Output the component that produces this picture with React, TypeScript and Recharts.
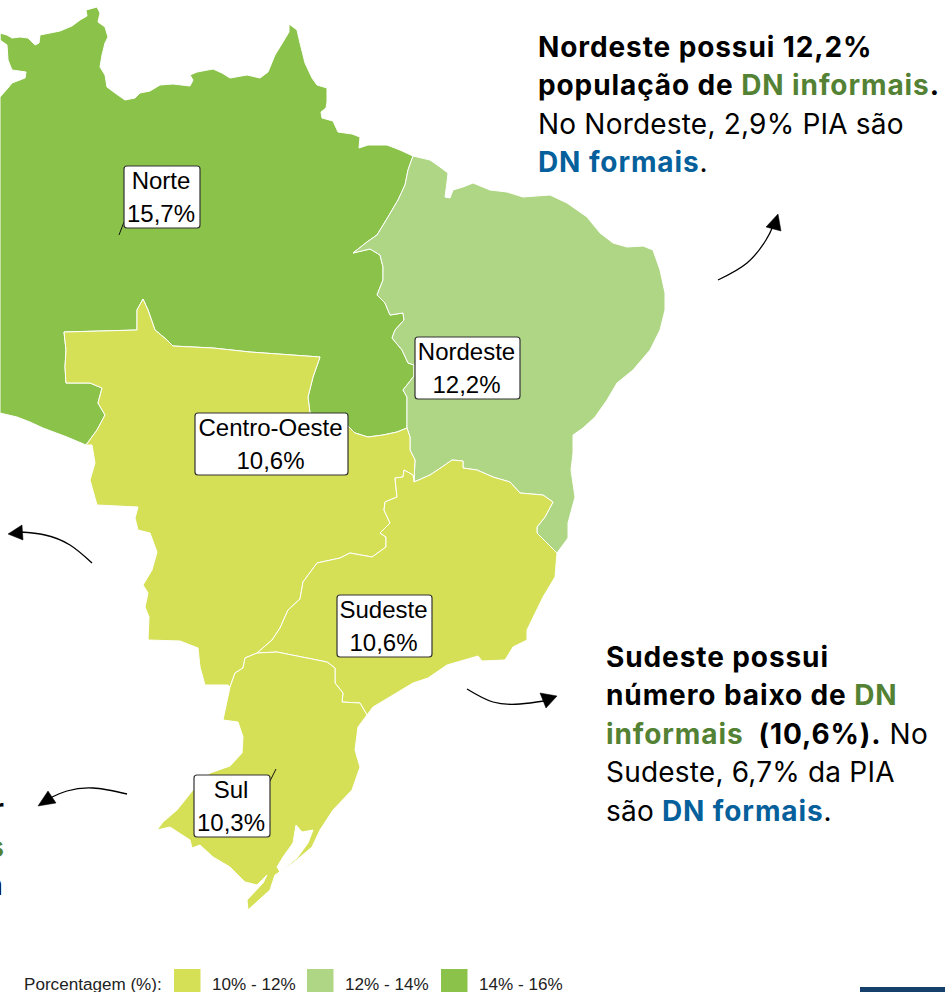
import React from 'react';
import { ScatterChart, Scatter, XAxis, YAxis } from 'recharts';

type Pt = [number, number];

const WIDTH = 945;
const HEIGHT = 992;

const COLOR_LOW = '#D5E057';
const COLOR_MID = '#AFD685';
const COLOR_HIGH = '#8BC34A';
const GREEN_TEXT = '#548235';
const BLUE_TEXT = '#05609C';

// region labels
const REGION_NAMES = ['Norte', 'Nordeste', 'Centro-Oeste', 'Sudeste', 'Sul'];
const REGION_VALUES = ['15,7%', '12,2%', '10,6%', '10,6%', '10,3%'];
const LABEL_X = [162, 467.5, 271.5, 384.5, 232];
const LABEL_Y = [166, 337, 413, 595, 775];
const LABEL_W = [76, 105, 153, 95, 76];

// legend
const LEGEND_LABELS = ['10% - 12%', '12% - 14%', '14% - 16%'];
const LEGEND_COLORS = [COLOR_LOW, COLOR_MID, COLOR_HIGH];
const LEGEND_X = [174, 307, 441];

// borders (x, y in picture pixels)
const NORTE_COAST: Pt[] = [
  [0, 97], [0, 33], [7, 35], [12, 38], [20, 37], [28, 38], [35, 45], [39, 43], [40, 35], [50, 33], [60, 31], [72, 26],
  [80, 20], [87, 16], [86, 10], [97, 7], [100, 13], [98, 22], [105, 27], [108, 37], [105, 43], [102, 55], [100, 67],
  [105, 75], [107, 87], [115, 93], [125, 100], [135, 98], [140, 93], [150, 91], [160, 85], [173, 84], [190, 86],
  [193, 80], [190, 75], [197, 72], [213, 69], [222, 73], [230, 78], [247, 75], [260, 78], [268, 72], [275, 55],
  [283, 42], [289, 32], [289, 24], [297, 30], [300, 43], [305, 63], [312, 78], [317, 85], [327, 88], [327, 102],
  [326, 108], [321, 112], [322, 118], [333, 121], [338, 132], [352, 134], [360, 137], [359, 148], [368, 145],
  [387, 145], [400, 150], [413, 156],
];
const NORTE_NORDESTE: Pt[] = [
  [413, 156], [408, 170], [405, 185], [398, 200], [388, 217], [377, 235], [367, 242], [353, 253], [370, 249], [380, 255],
  [383, 267], [383, 280], [377, 295], [385, 303], [390, 315], [403, 313], [404, 320], [395, 330], [392, 338],
  [402, 350], [408, 363], [414, 365], [414, 376], [403, 390], [407, 397], [407, 428],
];
const NORTE_CENTRO: Pt[] = [
  [407, 428], [397, 432], [383, 435], [368, 437], [355, 433], [348, 426], [310, 413], [308, 397], [313, 377], [320, 357],
  [250, 352], [213, 348], [173, 346], [167, 340], [155, 330], [148, 310], [143, 299], [137, 310], [137, 330], [64, 332],
  [66, 350], [65, 367], [66, 383], [90, 383], [102, 388], [98, 403], [105, 415], [97, 430], [86, 445],
];
const NORTE_WEST: Pt[] = [
  [86, 445], [67, 437], [43, 428], [30, 422], [17, 417], [0, 413], [0, 97], [8, 88], [12, 83], [25, 78], [26, 72],
  [12, 70], [8, 60], [7, 45], [0, 40],
];
const CENTRO_SOUTH: Pt[] = [
  [86, 445], [92, 445], [95, 463], [90, 480], [97, 505], [138, 507], [135, 518], [138, 530], [150, 533], [157, 552], [152, 570],
  [143, 585], [148, 593], [145, 607], [149, 617], [148, 640], [180, 641], [198, 648], [200, 667], [205, 685],
  [228, 685], [230, 687],
];
const CENTRO_SUL: Pt[] = [[230, 687], [235, 673], [243, 668], [245, 658], [257, 653]];
const CENTRO_SUDESTE: Pt[] = [
  [257, 653], [272, 640], [280, 628], [288, 610], [300, 599], [303, 582], [317, 563], [340, 558], [350, 553], [372, 557],
  [386, 547], [386, 537], [380, 533], [390, 523], [384, 510], [385, 502], [397, 497], [395, 478], [403, 477], [404, 470],
  [413, 475], [414, 482],
];
const CENTRO_NORDESTE: Pt[] = [[407, 428], [410, 437], [410, 450], [415, 460], [414, 482]];
const NORDESTE_SUDESTE: Pt[] = [
  [414, 482], [430, 475], [442, 467], [452, 460], [463, 461], [463, 468], [477, 470], [493, 477], [510, 482], [520, 493],
  [543, 495], [553, 502], [545, 517], [537, 527], [537, 533], [557, 553],
];
const NORDESTE_COAST: Pt[] = [
  [557, 553], [568, 538], [568, 523], [575, 497], [571, 470], [573, 453], [573, 435], [583, 428], [595, 417], [607, 400],
  [617, 383], [633, 370], [650, 350], [660, 330], [665, 310], [665, 293], [660, 270], [653, 250], [643, 246], [627, 247],
  [613, 243], [600, 233], [587, 217], [567, 203], [550, 195], [523, 197], [507, 192], [490, 190], [473, 183], [463, 187],
  [453, 190], [450, 198], [445, 197], [447, 182], [448, 173], [440, 167], [430, 160], [413, 156],
];
const SUDESTE_COAST: Pt[] = [
  [557, 553], [555, 577], [543, 597], [527, 630], [527, 640], [513, 647], [505, 660], [482, 661], [478, 656], [447, 665],
  [428, 678], [413, 683], [393, 695], [373, 707], [367, 715],
];
const SUDESTE_SUL: Pt[] = [
  [257, 653], [277, 652], [297, 656], [327, 662], [335, 668], [335, 683], [343, 693], [342, 702], [360, 703], [367, 715],
];
const SUL_COAST: Pt[] = [
  [367, 715], [358, 727], [355, 750], [360, 767], [352, 790], [333, 810], [320, 830], [312, 847], [293, 863], [275, 875],
  [270, 890], [248, 910], [247, 900], [263, 883], [267, 875], [257, 885], [245, 882], [230, 867], [213, 857], [200, 845],
  [192, 848], [190, 840], [170, 827], [157, 830], [163, 822], [177, 810], [193, 790], [210, 773], [230, 766], [242, 753],
  [243, 737], [238, 722], [223, 720], [230, 687],
];
const LAGOA: Pt[] = [
  [277, 867], [283, 857], [293, 843], [296, 825], [302, 832], [313, 830], [308, 843], [297, 858], [280, 872], [277, 867],
];

const back = (a: Pt[]) => [...a].reverse();

const NORTE = [...NORTE_COAST, ...NORTE_NORDESTE, ...NORTE_CENTRO, ...NORTE_WEST, [0, 33] as Pt];
const NORDESTE = [...back(NORDESTE_COAST), ...back(NORDESTE_SUDESTE), ...back(CENTRO_NORDESTE), ...back(NORTE_NORDESTE)];
const CENTRO = [...back(NORTE_CENTRO), ...CENTRO_NORDESTE, ...back(CENTRO_SUDESTE), ...back(CENTRO_SUL), ...back(CENTRO_SOUTH)];
const SUDESTE = [...CENTRO_SUDESTE, ...NORDESTE_SUDESTE, ...SUDESTE_COAST, ...back(SUDESTE_SUL)];
const SUL = [...SUDESTE_SUL, ...SUL_COAST, ...CENTRO_SUL];

const REGIONS: { key: string; pts: Pt[]; fill: string }[] = [
  { key: 'norte', pts: NORTE, fill: COLOR_HIGH },
  { key: 'nordeste', pts: NORDESTE, fill: COLOR_MID },
  { key: 'centro', pts: CENTRO, fill: COLOR_LOW },
  { key: 'sudeste', pts: SUDESTE, fill: COLOR_LOW },
  { key: 'sul', pts: SUL, fill: COLOR_LOW },
  { key: 'lagoa', pts: LAGOA, fill: '#ffffff' },
];

// leader ticks of the Norte and Sul labels
const LEADERS: Pt[][] = [
  [[124, 222], [119, 235]],
  [[270, 781], [276, 769]],
];

// callout arrows: curve, then head
const ARROW_LINES: Pt[][] = [
  [[718, 280], [747, 263], [766, 240], [773, 226]],
  [[92, 563], [70, 545], [45, 535], [20, 532]],
  [[467, 689], [493, 702], [520, 704], [544, 701]],
  [[127, 794], [93, 788], [67, 791], [50, 798]],
];
const ARROW_HEADS: Pt[][] = [
  [[778, 214], [766, 227], [781, 231], [778, 214]],
  [[8, 534], [22, 525], [23, 540], [8, 534]],
  [[557, 696], [540, 693], [546, 708], [557, 696]],
  [[38, 806], [48, 791], [56, 803], [38, 806]],
];

// callout text, one list per line
type Run = { t: string; c?: string; b?: boolean };
const NORDESTE_TEXT: Run[][] = [
  [{ t: 'Nordeste possui 12,2%', b: true }],
  [{ t: 'população de ', b: true }, { t: 'DN informais', b: true, c: GREEN_TEXT }, { t: '.', b: true }],
  [{ t: 'No Nordeste, 2,9% PIA são' }],
  [{ t: 'DN formais', b: true, c: BLUE_TEXT }, { t: '.' }],
];
const SUDESTE_TEXT: Run[][] = [
  [{ t: 'Sudeste possui', b: true }],
  [{ t: 'número baixo de ', b: true }, { t: 'DN', b: true, c: GREEN_TEXT }],
  [{ t: 'informais', b: true, c: GREEN_TEXT }, { t: '  (10,6%).', b: true }, { t: ' No' }],
  [{ t: 'Sudeste, 6,7% da PIA' }],
  [{ t: 'são ' }, { t: 'DN formais', b: true, c: BLUE_TEXT }, { t: '.' }],
];

const toData = (pts: Pt[]) => pts.map(([x, y]) => ({ x, y }));

const labelData = REGION_NAMES.map((name, i) => ({
  x: LABEL_X[i], y: LABEL_Y[i], name, value: REGION_VALUES[i], w: LABEL_W[i],
}));
const legendData = LEGEND_LABELS.map((label, i) => ({ x: LEGEND_X[i], y: 969, label, color: LEGEND_COLORS[i] }));

const noDot = () => <g />;

function RegionLabel({ cx, cy, payload }: any) {
  const { name, value, w } = payload;
  return (
    <g fontFamily="'Liberation Sans', Arial, sans-serif" fontSize={24} fill="#000" textAnchor="middle">
      <rect x={cx - w / 2} y={cy} width={w} height={62} rx={3} fill="#fff" stroke="#333" strokeWidth={1.2} />
      <text x={cx - 1} y={cy + 23}>{name}</text>
      <text x={cx - 1} y={cy + 56}>{value}</text>
    </g>
  );
}

function LegendItem({ cx, cy, payload }: any) {
  return (
    <g>
      <rect x={cx} y={cy} width={26.5} height={24} fill={payload.color} />
      <text x={cx + 38} y={990} fontFamily="'Liberation Sans', Arial, sans-serif" fontSize={17.1} fill="#222">
        {payload.label}
      </text>
    </g>
  );
}

function Callout({ x, y, lines }: { x: number; y: number; lines: Run[][] }) {
  return (
    <text fontFamily="Inter, sans-serif" fontSize={28} fill="#000" style={{ whiteSpace: 'pre' }}>
      {lines.map((line, i) => (
        <tspan key={i} x={x} y={y + i * 38.4}>
          {line.map((r, j) => (
            <tspan key={j} fill={r.c || '#000'} fontWeight={r.b ? 700 : 400} letterSpacing={r.b ? 0.9 : 0.2}>{r.t}</tspan>
          ))}
        </tspan>
      ))}
    </text>
  );
}

export default function App() {
  return (
    <div style={{ position: 'absolute', left: 0, top: 0, width: WIDTH, height: HEIGHT, background: '#fff', overflow: 'hidden' }}>
      <ScatterChart width={WIDTH} height={HEIGHT} margin={{ top: 0, right: 0, bottom: 0, left: 0 }}>
        <XAxis type="number" dataKey="x" domain={[0, WIDTH]} hide />
        <YAxis type="number" dataKey="y" domain={[0, HEIGHT]} reversed hide />

        {REGIONS.map(r => (
          <Scatter
            key={r.key}
            data={toData(r.pts)}
            line={{ fill: r.fill, stroke: '#ffffff', strokeWidth: 1 }}
            lineJointType="linear"
            shape={noDot}
            isAnimationActive={false}
          />
        ))}

        {LEADERS.map((l, i) => (
          <Scatter
            key={`leader-${i}`}
            data={toData(l)}
            line={{ stroke: '#111', strokeWidth: 1 }}
            shape={noDot}
            isAnimationActive={false}
          />
        ))}

        <Scatter data={labelData} shape={RegionLabel} isAnimationActive={false} />

        {ARROW_LINES.map((l, i) => (
          <Scatter
            key={`arrow-${i}`}
            data={toData(l)}
            line={{ stroke: '#000', strokeWidth: 1.3, fill: 'none' }}
            lineJointType="natural"
            shape={noDot}
            isAnimationActive={false}
          />
        ))}
        {ARROW_HEADS.map((l, i) => (
          <Scatter
            key={`head-${i}`}
            data={toData(l)}
            line={{ stroke: '#000', strokeWidth: 0.5, fill: '#000' }}
            lineJointType="linear"
            shape={noDot}
            isAnimationActive={false}
          />
        ))}

        <Scatter data={legendData} shape={LegendItem} isAnimationActive={false} />

        <Callout x={538} y={57} lines={NORDESTE_TEXT} />
        <Callout x={606} y={667} lines={SUDESTE_TEXT} />

        {/* ends of a text box cut off by the left edge */}
        <text x={4} y={819} textAnchor="end" fontFamily="Inter, sans-serif" fontSize={28} fontWeight={700}>r</text>
        <text x={4} y={857} textAnchor="end" fontFamily="Inter, sans-serif" fontSize={28} fontWeight={700} fill={GREEN_TEXT}>s</text>
        <text x={3} y={895} textAnchor="end" fontFamily="Inter, sans-serif" fontSize={28} fill="#000">n</text>

        <text x={24} y={990} fontFamily="'Liberation Sans', Arial, sans-serif" fontSize={17.1} fill="#222">Porcentagem (%):</text>
        <rect x={860} y={987} width={85} height={5} fill="#14406B" />
      </ScatterChart>
    </div>
  );
}
